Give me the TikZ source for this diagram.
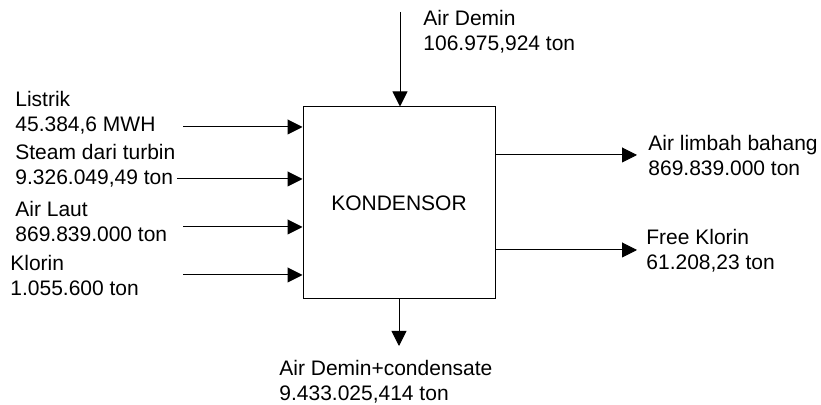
\documentclass[tikz,border=0pt]{standalone}
\usepackage{fontspec}
\setmainfont{Liberation Sans}
\usetikzlibrary{arrows.meta,positioning,calc}

\tikzset{
    flow/.style={-{Triangle[length=7.5pt,width=7.5pt]}, line width=0.5pt},
    unit/.style={draw, line width=0.5pt, minimum width=96pt, minimum height=96pt, inner sep=0pt},
    lbl/.style={anchor=west, align=left, inner sep=0pt, font=\fontsize{10.5pt}{12.5pt}\selectfont},
}

\begin{document}
\begin{tikzpicture}[x=0.5pt, y=-0.5pt]
\useasboundingbox (0,0) rectangle (821,405);

% Unit proses
\node[unit, font=\fontsize{10.5pt}{12.5pt}\selectfont] (kondensor) at (399,203) {KONDENSOR};

% Input kiri
\node[lbl] (listrik) at (15,113) {Listrik\\45.384,6 MWH};
\node[lbl] (steam) at (15,166) {Steam dari turbin\\9.326.049,49 ton};
\node[lbl] (airlaut) at (15,221) {Air Laut\\869.839.000 ton};
\node[lbl] (klorin) at (10,275) {Klorin\\1.055.600 ton};
\coordinate (inlistrik) at (183,127);
\coordinate (insteam) at (177,179);
\coordinate (inairlaut) at (183,227);
\coordinate (inklorin) at (183,275);
\draw[flow] (inlistrik) -- (inlistrik -| kondensor.west);
\draw[flow] (insteam) -- (insteam -| kondensor.west);
\draw[flow] (inairlaut) -- (inairlaut -| kondensor.west);
\draw[flow] (inklorin) -- (inklorin -| kondensor.west);

% Input atas
\node[lbl] (demin) at (423,32) {Air Demin\\106.975,924 ton};
\coordinate (indemin) at (400,12);
\draw[flow] (indemin) -- (indemin |- kondensor.north);

% Output kanan
\node[lbl] (limbah) at (648,155) {Air limbah bahang\\869.839.000 ton};
\node[lbl] (freeklorin) at (646,251) {Free Klorin\\61.208,23 ton};
\coordinate (outlimbah) at (637,155);
\coordinate (outfree) at (637,250);
\draw[flow] (outlimbah -| kondensor.east) -- (outlimbah);
\draw[flow] (outfree -| kondensor.east) -- (outfree);

% Output bawah
\node[lbl] (kondensat) at (279,382) {Air Demin+condensate\\9.433.025,414 ton};
\coordinate (outkondensat) at (399,346);
\draw[flow] (kondensor.south) -- (outkondensat);
\end{tikzpicture}
\end{document}
